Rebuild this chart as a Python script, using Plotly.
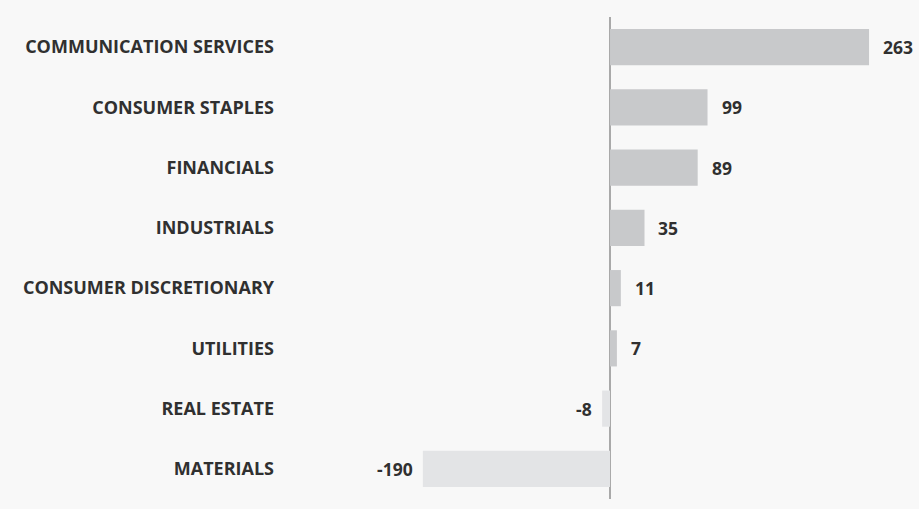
import plotly.graph_objects as go

categories = ["COMMUNICATION SERVICES", "CONSUMER STAPLES", "FINANCIALS", "INDUSTRIALS",
              "CONSUMER DISCRETIONARY", "UTILITIES", "REAL ESTATE", "MATERIALS"]
values = [263, 99, 89, 35, 11, 7, -8, -190]

colors = ["#c8c9cb" if v >= 0 else "#e3e4e6" for v in values]

fig = go.Figure()
fig.add_trace(go.Bar(
    x=values, y=categories, orientation="h",
    marker=dict(color=colors, line=dict(width=0)),
    hoverinfo="skip",
))

for c, v in zip(categories, values):
    fig.add_annotation(
        x=v, y=c, text=f"<b>{v}</b>", showarrow=False,
        xanchor="left" if v >= 0 else "right",
        xshift=12 if v >= 0 else -8,
        font=dict(family="Open Sans", size=17.5, color="#303030"),
    )

fig.update_layout(
    width=919, height=509,
    margin=dict(l=285, r=14, t=17, b=10),
    paper_bgcolor="#f8f8f8",
    plot_bgcolor="rgba(0,0,0,0)",
    showlegend=False,
    bargap=0.4,
    xaxis=dict(range=[-330, 299.5], showgrid=False, showticklabels=False,
               zeroline=True, zerolinecolor="#a9a9a9", zerolinewidth=2,
               fixedrange=True),
    yaxis=dict(autorange="reversed", showgrid=False, zeroline=False,
               tickfont=dict(family="Open Sans", size=18, color="#303030", weight="bold"),
               ticks="", ticklabelstandoff=10, fixedrange=True),
)

fig.write_html("out.html", config={"displayModeBar": False},
               post_script="document.body.style.margin='0';")
